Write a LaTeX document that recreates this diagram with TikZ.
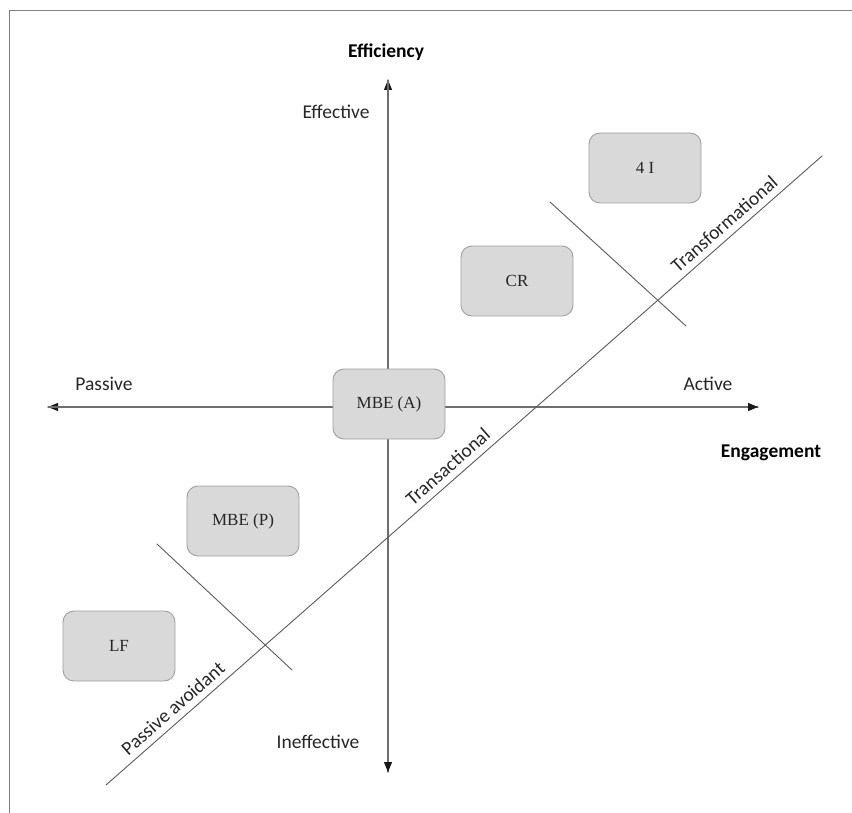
\documentclass[tikz,border=0pt]{standalone}
\usepackage{fontspec}
\setmainfont{Liberation Serif}
\newfontfamily\labelfont{Carlito}
\usetikzlibrary{arrows.meta,positioning}
\definecolor{boxfill}{HTML}{D9D9D9}
\definecolor{boxline}{HTML}{A0A0A0}
\definecolor{axisgray}{HTML}{6E6E6E}
\definecolor{linegray}{HTML}{5A5A5A}
\definecolor{framegray}{HTML}{808080}
\tikzset{>={Triangle[length=10pt,width=8pt,color=black!90]},
  quadbox/.style={draw=boxline,fill=boxfill,line width=0.9pt,rounded corners=11pt,
    minimum width=112pt,minimum height=70pt,text=black!85,
    font=\fontsize{17}{20}\selectfont},
  axislabel/.style={text=black!85,font=\labelfont\fontsize{19.5}{23}\selectfont},
  axistitle/.style={text=black,font=\labelfont\bfseries\fontsize{19.5}{23}\selectfont},
  axisline/.style={draw=axisgray,line width=1.2pt},
  styleline/.style={draw=linegray,line width=0.9pt}}

\begin{document}
\begin{tikzpicture}[x=1pt,y=-1pt,line cap=round]

  \useasboundingbox (0,0) rectangle (852,813);
  \draw [framegray,line width=0.9pt] (9,813) -- (9,10) -- (852,10);

  % axes
  \coordinate (efftop) at (388,80);
  \coordinate (effbot) at (388,772);
  \coordinate (engleft) at (48,407);
  \coordinate (engright) at (758,407);
  \draw [axisline,->] (effbot) -- (efftop);
  \draw [axisline,->] (efftop) -- (effbot);
  \draw [axisline,->] (engright) -- (engleft);
  \draw [axisline,->] (engleft) -- (engright);

  \node [axistitle] (efficiency) at (386,52) {Efficiency};
  \node [axistitle] (engagement) at (771,453) {Engagement};
  \node [axislabel] (effective) at (336,112) {Effective};
  \node [axislabel] (ineffective) at (318,742) {Ineffective};
  \node [axislabel] (passive) at (104,384) {Passive};
  \node [axislabel] (active) at (708,384) {Active};

  % leadership styles
  \coordinate (diagstart) at (106,785);
  \coordinate (diagend) at (822,156);
  \draw [styleline] (diagstart) -- (diagend)
    node [axislabel,sloped,above=3pt,pos=0.106] (pasavoid) {Passive avoidant}
    node [axislabel,sloped,above=3pt,pos=0.49] (transact) {Transactional}
    node [axislabel,sloped,above=3pt,pos=0.876] (transform) {Transformational};

  \coordinate (upcutA) at (550,202);
  \coordinate (upcutB) at (686,326);
  \coordinate (lowcutA) at (157,544);
  \coordinate (lowcutB) at (292,670);
  \draw [styleline] (upcutA) -- (upcutB);
  \draw [styleline] (lowcutA) -- (lowcutB);

  % boxes
  \node [quadbox] (mbea) at (389,404) {MBE (A)};
  \node [quadbox] (fouri) at (645,168) {4 I};
  \node [quadbox] (cr) at (517,281) {CR};
  \node [quadbox] (mbep) at (243,521) {MBE (P)};
  \node [quadbox] (lf) at (119,646) {LF};

\end{tikzpicture}
\end{document}
